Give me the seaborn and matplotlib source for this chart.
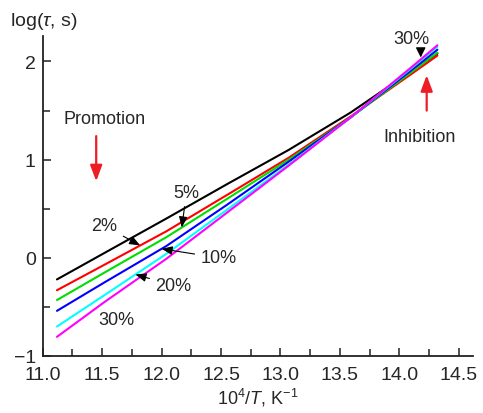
import numpy as np
import pandas as pd
import matplotlib
matplotlib.use("Agg")
import matplotlib.pyplot as plt
from matplotlib.ticker import MultipleLocator, FormatStrFormatter
import seaborn as sns

# Reciprocal temperature grid (10^4/T, K^-1)
inv_T = [11.12, 11.52, 12.04, 12.55, 13.07, 13.59, 14.11, 14.32]

# log(tau) for each additive content
series_names = ["0%", "2%", "5%", "10%", "20%", "30%"]
log_tau_0 = [-0.22, 0.05, 0.40, 0.75, 1.10, 1.48, 1.91, 2.08]
log_tau_2 = [-0.33, -0.07, 0.27, 0.64, 1.02, 1.44, 1.88, 2.06]
log_tau_5 = [-0.43, -0.15, 0.21, 0.60, 1.00, 1.43, 1.90, 2.09]
log_tau_10 = [-0.54, -0.25, 0.12, 0.54, 0.98, 1.43, 1.92, 2.12]
log_tau_20 = [-0.70, -0.38, 0.04, 0.49, 0.95, 1.43, 1.94, 2.15]
log_tau_30 = [-0.805, -0.45, -0.01, 0.46, 0.94, 1.43, 1.95, 2.165]
line_colors = ["#000000", "#ff0000", "#00dd00", "#0000ff", "#00ffff", "#ff00ff"]

all_values = [log_tau_0, log_tau_2, log_tau_5, log_tau_10, log_tau_20, log_tau_30]
df = pd.DataFrame({
    "x": np.tile(inv_T, len(series_names)),
    "y": np.concatenate(all_values),
    "series": np.repeat(series_names, len(inv_T)),
})

sns.set_theme(style="ticks")
plt.rcParams["font.family"] = ["Liberation Sans", "DejaVu Sans"]
plt.rcParams["mathtext.fontset"] = "custom"
plt.rcParams["mathtext.rm"] = "Liberation Sans"
plt.rcParams["mathtext.it"] = "Liberation Sans:italic"
plt.rcParams["axes.unicode_minus"] = True

text_color = "#262626"
fig = plt.figure(figsize=(4.83, 4.14), dpi=100)
ax = fig.add_axes([0.0884, 0.1377, 0.891, 0.773])

sns.lineplot(data=df, x="x", y="y", hue="series", hue_order=series_names,
             palette=dict(zip(series_names, line_colors)), legend=False,
             linewidth=1.5, ax=ax)

ax.set_xlim(11.0, 14.62)
ax.set_ylim(-1.0, 2.26)
ax.set_xticks(np.arange(11.0, 14.51, 0.5))
ax.set_xticks(np.arange(11.25, 14.51, 0.5), minor=True)
ax.yaxis.set_major_locator(MultipleLocator(1.0))
ax.yaxis.set_minor_locator(MultipleLocator(0.5))
ax.xaxis.set_major_formatter(FormatStrFormatter("%.1f"))
ax.tick_params(which="both", direction="in", width=1.1, color="#222222",
               labelsize=14, labelcolor=text_color)
ax.tick_params(axis="x", which="major", pad=7)
ax.tick_params(axis="y", which="major", pad=5)
ax.tick_params(which="major", length=6)
ax.tick_params(which="minor", length=5)
sns.despine(ax=ax)
for side in ("left", "bottom"):
    ax.spines[side].set_linewidth(1.3)
    ax.spines[side].set_color("#222222")

ax.set_xlabel(r"$10^4/T$, K$^{-1}$", fontsize=13, color=text_color, labelpad=2)
ax.set_ylabel("")
fig.text(0.02, 0.947, r"log($\tau$, s)", fontsize=14, color=text_color,
         ha="left", va="center")

# Series labels with pointer arrows
def line_y(values, x):
    return float(np.interp(x, inv_T, values))

arrow_kw = dict(arrowstyle="-|>,head_length=0.5,head_width=0.2", color="black",
                lw=0.8, shrinkA=2, shrinkB=0)
label_kw = dict(fontsize=13, color=text_color, ha="center", va="center")

ax.annotate("2%", xy=(11.82, line_y(log_tau_2, 11.82)), xytext=(11.52, 0.325),
            arrowprops=arrow_kw, **label_kw)
ax.annotate("5%", xy=(12.17, line_y(log_tau_5, 12.17)), xytext=(12.21, 0.67),
            arrowprops=arrow_kw, **label_kw)
ax.annotate("10%", xy=(12.00, line_y(log_tau_10, 12.00)), xytext=(12.48, 0.0),
            arrowprops=arrow_kw, **label_kw)
ax.annotate("20%", xy=(11.78, line_y(log_tau_20, 11.78)), xytext=(12.10, -0.28),
            arrowprops=arrow_kw, **label_kw)
ax.text(11.62, -0.63, "30%", **label_kw)

tip_30 = line_y(log_tau_30, 14.18)
ax.text(14.10, 2.23, "30%", **label_kw)
ax.annotate("", xy=(14.18, tip_30 + 0.02), xytext=(14.18, tip_30 + 0.1),
            arrowprops=dict(arrowstyle="-|>,head_length=0.5,head_width=0.25",
                            color="black", lw=0.8, shrinkA=0, shrinkB=0))

# Promotion / inhibition markers
ax.text(11.52, 1.42, "Promotion", **label_kw)
ax.annotate("", xy=(11.45, 0.78), xytext=(11.45, 1.24),
            arrowprops=dict(arrowstyle="-|>,head_length=0.8,head_width=0.3",
                            color="#ee1c25", lw=1.6, shrinkA=0, shrinkB=0))
ax.text(14.17, 1.24, "Inhibition", **label_kw)
ax.annotate("", xy=(14.23, 1.86), xytext=(14.23, 1.50),
            arrowprops=dict(arrowstyle="-|>,head_length=0.8,head_width=0.3",
                            color="#ee1c25", lw=1.6, shrinkA=0, shrinkB=0))

fig.savefig("out.png", dpi=100)
